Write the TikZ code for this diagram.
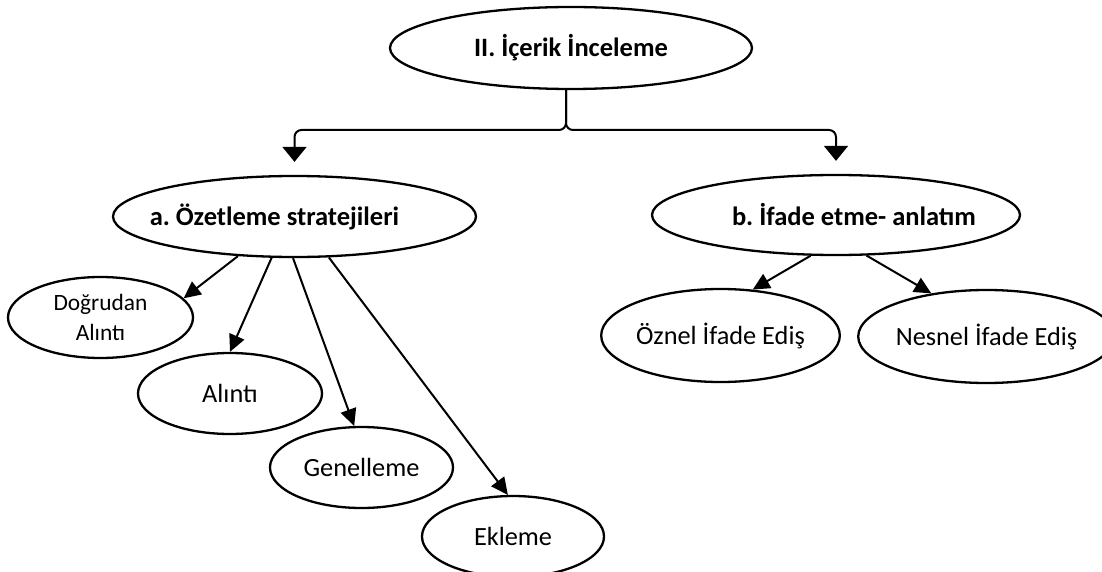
\documentclass[tikz,border=0pt]{standalone}
\usepackage{fontspec}
\setmainfont{Carlito}
\usetikzlibrary{arrows.meta,shapes.geometric}
\frenchspacing
\begin{document}
\begin{tikzpicture}[x=1pt,y=-1pt,
  ell/.style={draw, ellipse, line width=2.3pt, inner sep=0pt, align=center},
  big/.style={font=\fontsize{26.5}{32}\selectfont\bfseries},
  reg/.style={font=\fontsize{26.3}{32}\selectfont},
  small/.style={font=\fontsize{23.4}{30}\selectfont},
  toparr/.style={line width=2pt, rounded corners=7pt, -{Triangle[length=15pt,width=24pt]}},
  arr/.style={line width=2pt, -{Triangle[length=17pt,width=16pt]}}
]
\useasboundingbox (0,0) rectangle (1102,572);
\node[ell, big, minimum width=362pt, minimum height=82pt] (top) at (571,48) {II. İçerik İnceleme};
\node[ell, minimum width=363pt, minimum height=81pt,
  label={[big, xshift=-20pt]center:a. Özetleme stratejileri}] (a) at (294.5,216.5) {};
\node[ell, minimum width=368pt, minimum height=80pt,
  label={[big, xshift=18pt]center:b. İfade etme- anlatım}] (b) at (836,215) {};
\node[ell, small, minimum width=185pt, minimum height=81pt] (dog) at (100.5,317.5) {Doğrudan\\Alıntı};
\node[ell, reg, minimum width=184pt, minimum height=81pt] (al) at (230,393.5) {Alıntı};
\node[ell, reg, minimum width=183pt, minimum height=81pt] (gen) at (361.5,467.5) {Genelleme};
\node[ell, reg, minimum width=182pt, minimum height=81pt] (ek) at (513,536.5) {Ekleme};
\node[ell, reg, minimum width=235pt, minimum height=93pt] (oz) at (720.5,335.5) {Öznel İfade Ediş};
\node[ell, reg, minimum width=244pt, minimum height=93pt] (nes) at (986.5,336.5) {Nesnel İfade Ediş};
\coordinate (j) at (566,130);
\draw[toparr] (top.south -| j) -- (j) -- (a.north |- j) -- ([yshift=13pt]a.north);
\draw[toparr] (top.south -| j) -- (j) -- (b.north |- j) -- ([yshift=13pt]b.north);
\draw[arr] (a.-145) -- (dog.13);
\draw[arr] (a.-119) -- (al.north);
\draw[arr] (a.-92) -- (gen.100);
\draw[arr] (a.-50) -- (ek.97);
\draw[arr] (b.-122) -- (oz.55);
\draw[arr] (b.-53) -- (nes.142);
\end{tikzpicture}
\end{document}
